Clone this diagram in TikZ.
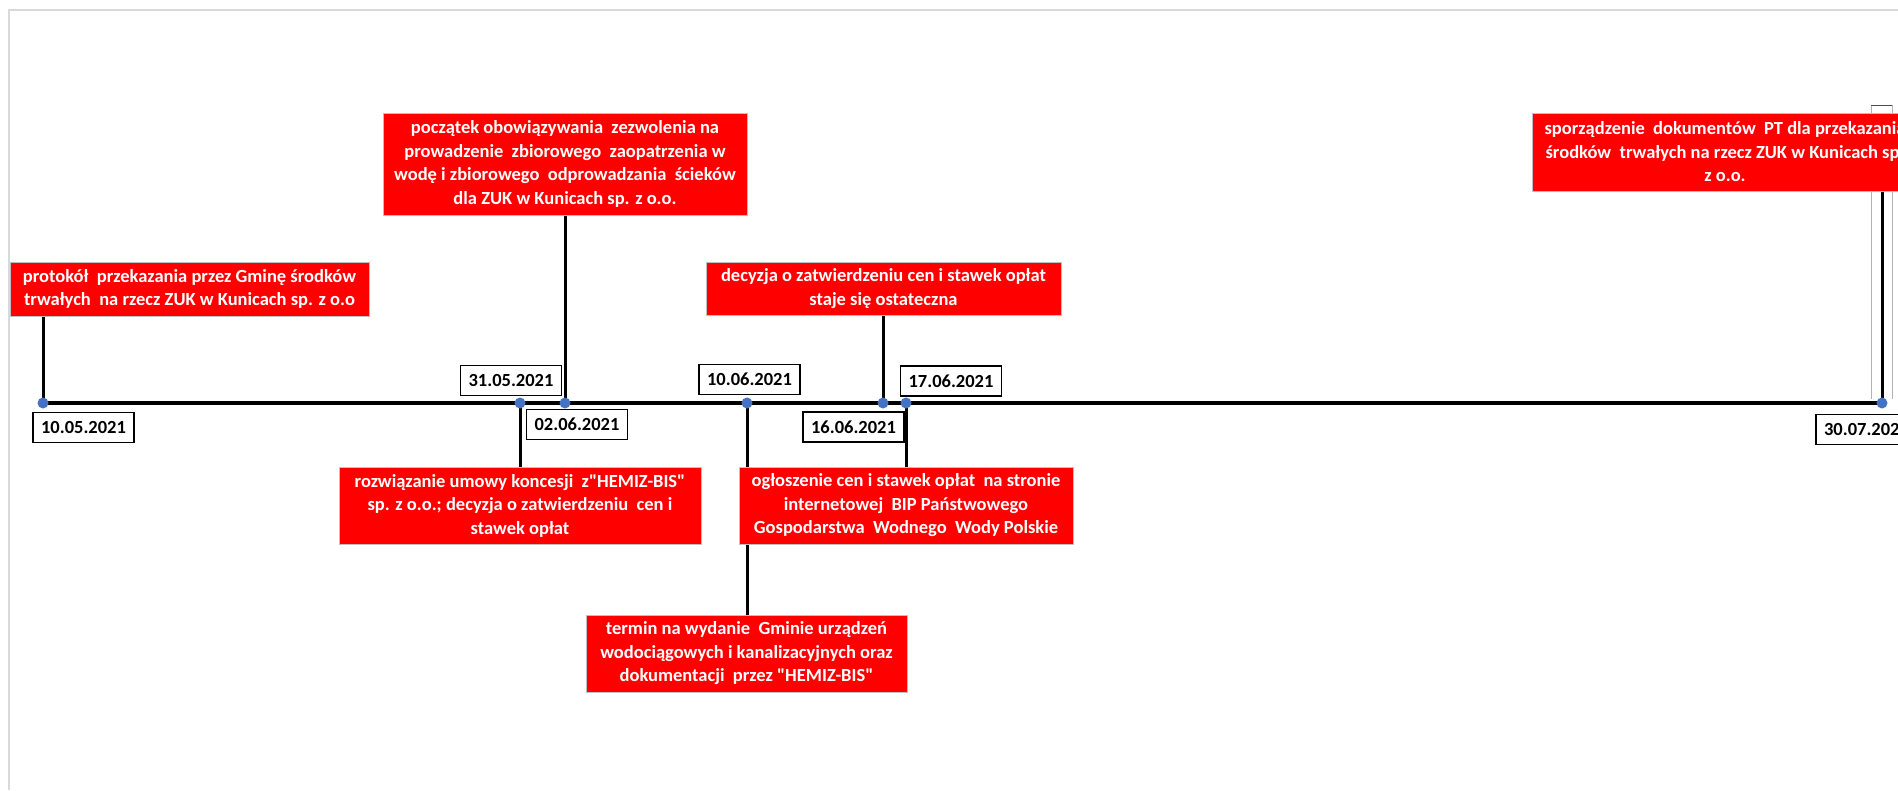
\documentclass[tikz,border=0pt]{standalone}
\usepackage{fontspec}
\setmainfont{Carlito}[Ligatures=TeXOff]
\definecolor{boxred}{HTML}{FF0000}
\definecolor{boxedge}{HTML}{BFBFBF}
\definecolor{dotblue}{HTML}{4472C4}
\definecolor{framegray}{HTML}{D9D9D9}
\tikzset{
  redbox/.style={fill=boxred, draw=boxedge, line width=1pt, text=white, font=\bfseries\fontsize{18.5}{23.5}\selectfont, align=center, inner sep=0pt},
  datebox/.style={fill=white, draw=black, line width=1.2pt, text=black, font=\bfseries\fontsize{18.5}{22}\selectfont, inner sep=0pt, minimum width=101pt, minimum height=30pt},
  tick/.style={draw=black, line width=3pt},
  axisline/.style={draw=black, line width=4.5pt},
  evdot/.style={circle, fill=dotblue, inner sep=0pt, minimum size=11pt},
}
\begin{document}
\begin{tikzpicture}[x=1pt, y=-1pt]
\useasboundingbox (0,0) rectangle (1898,790);
\clip (0,0) rectangle (1898,790);
% frame
\draw[framegray, line width=1.5pt] (9,790) -- (9,10) -- (1898,10);
% thin box at right
\draw[gray!60, line width=1pt] (1871,399) -- (1871,105) -- (1892,105) -- (1892,399);
\draw[black!70, line width=1pt] (1871,105) -- (1892,105);
% dots (positions)
\coordinate (p1) at (43,403);
\coordinate (p2) at (520,403);
\coordinate (p3) at (565,403);
\coordinate (p4) at (747,403);
\coordinate (p5) at (883,403);
\coordinate (p6) at (906,403);
\coordinate (p7) at (1882,403);
\coordinate (axend) at (1882,403);
% upper boxes
\path
  node[redbox, minimum width=359pt, minimum height=54pt] (b1) at (189.5,289) {protokół\ \ przekazania przez Gminę środków\\trwałych\ \ na rzecz ZUK w Kunicach sp. z o.o}
  node[redbox, minimum width=364pt, minimum height=102pt] (b2) at (565,164) {początek obowiązywania\ \ zezwolenia na\\prowadzenie\ \ zbiorowego\ \ zaopatrzenia w\\wodę i zbiorowego\ \ odprowadzania\ \ ścieków\\dla ZUK w Kunicach sp. z o.o.}
  node[redbox, minimum width=386pt, minimum height=78pt] (b7) at (1725,152) {sporządzenie\ \ dokumentów\ \ PT dla przekazania\\środków\ \ trwałych na rzecz ZUK w Kunicach sp.\\z o.o.}
  node[redbox, minimum width=355pt, minimum height=53pt] (b4) at (883.5,288.5) {decyzja o zatwierdzeniu cen i stawek opłat\\staje się ostateczna};
% connectors
\draw[tick] (p1) -- (p1 |- b1.south);
\draw[tick] (p2) -- (520,467);
\draw[tick] (p3) -- (p3 |- b2.south);
\draw[tick] (p4) -- (747,615);
\draw[tick] (p5) -- (p5 |- b4.south);
\draw[tick] (p6) -- (906,467);
\draw[tick] (p7) -- (p7 |- b7.south);
% axis
\draw[axisline] (p1) -- (axend);
% lower boxes
\node[redbox, minimum width=362pt, minimum height=77pt] (b3) at (520,505.5) {rozwiązanie umowy koncesji\ \ z"HEMIZ-BIS"\\sp. z o.o.; decyzja o zatwierdzeniu\ \ cen i\\stawek opłat};
\node[redbox, minimum width=334pt, minimum height=77pt] (b5) at (906,505.5) {ogłoszenie cen i stawek opłat\ \ na stronie\\internetowej\ \ BIP Państwowego\\Gospodarstwa\ \ Wodnego\ \ Wody Polskie};
\node[redbox, minimum width=321pt, minimum height=77pt] (b6) at (746.5,653.5) {termin na wydanie\ \ Gminie urządzeń\\wodociągowych i kanalizacyjnych oraz\\dokumentacji\ \ przez "HEMIZ-BIS"};
% redraw upper boxes on top of connectors
\node[redbox, minimum width=359pt, minimum height=54pt] at (b1) {protokół\ \ przekazania przez Gminę środków\\trwałych\ \ na rzecz ZUK w Kunicach sp. z o.o};
\node[redbox, minimum width=364pt, minimum height=102pt] at (b2) {początek obowiązywania\ \ zezwolenia na\\prowadzenie\ \ zbiorowego\ \ zaopatrzenia w\\wodę i zbiorowego\ \ odprowadzania\ \ ścieków\\dla ZUK w Kunicach sp. z o.o.};
\node[redbox, minimum width=386pt, minimum height=78pt] at (b7) {sporządzenie\ \ dokumentów\ \ PT dla przekazania\\środków\ \ trwałych na rzecz ZUK w Kunicach sp.\\z o.o.};
\node[redbox, minimum width=355pt, minimum height=53pt] at (b4) {decyzja o zatwierdzeniu cen i stawek opłat\\staje się ostateczna};
% date boxes
\node[datebox] (d1) at (83.5,427.5) {10.05.2021};
\node[datebox] (d2) at (511,380.5) {31.05.2021};
\node[datebox] (d3) at (577,424.5) {02.06.2021};
\node[datebox] (d4) at (749.5,379.5) {10.06.2021};
\node[datebox] (d5) at (853.5,427) {16.06.2021};
\node[datebox] (d6) at (951,381) {17.06.2021};
\node[datebox] (d7) at (1866.5,429.5) {30.07.2021};
% dots
\foreach \p in {p1,p2,p3,p4,p5,p6,p7} \node[evdot] at (\p) {};
\end{tikzpicture}
\end{document}
